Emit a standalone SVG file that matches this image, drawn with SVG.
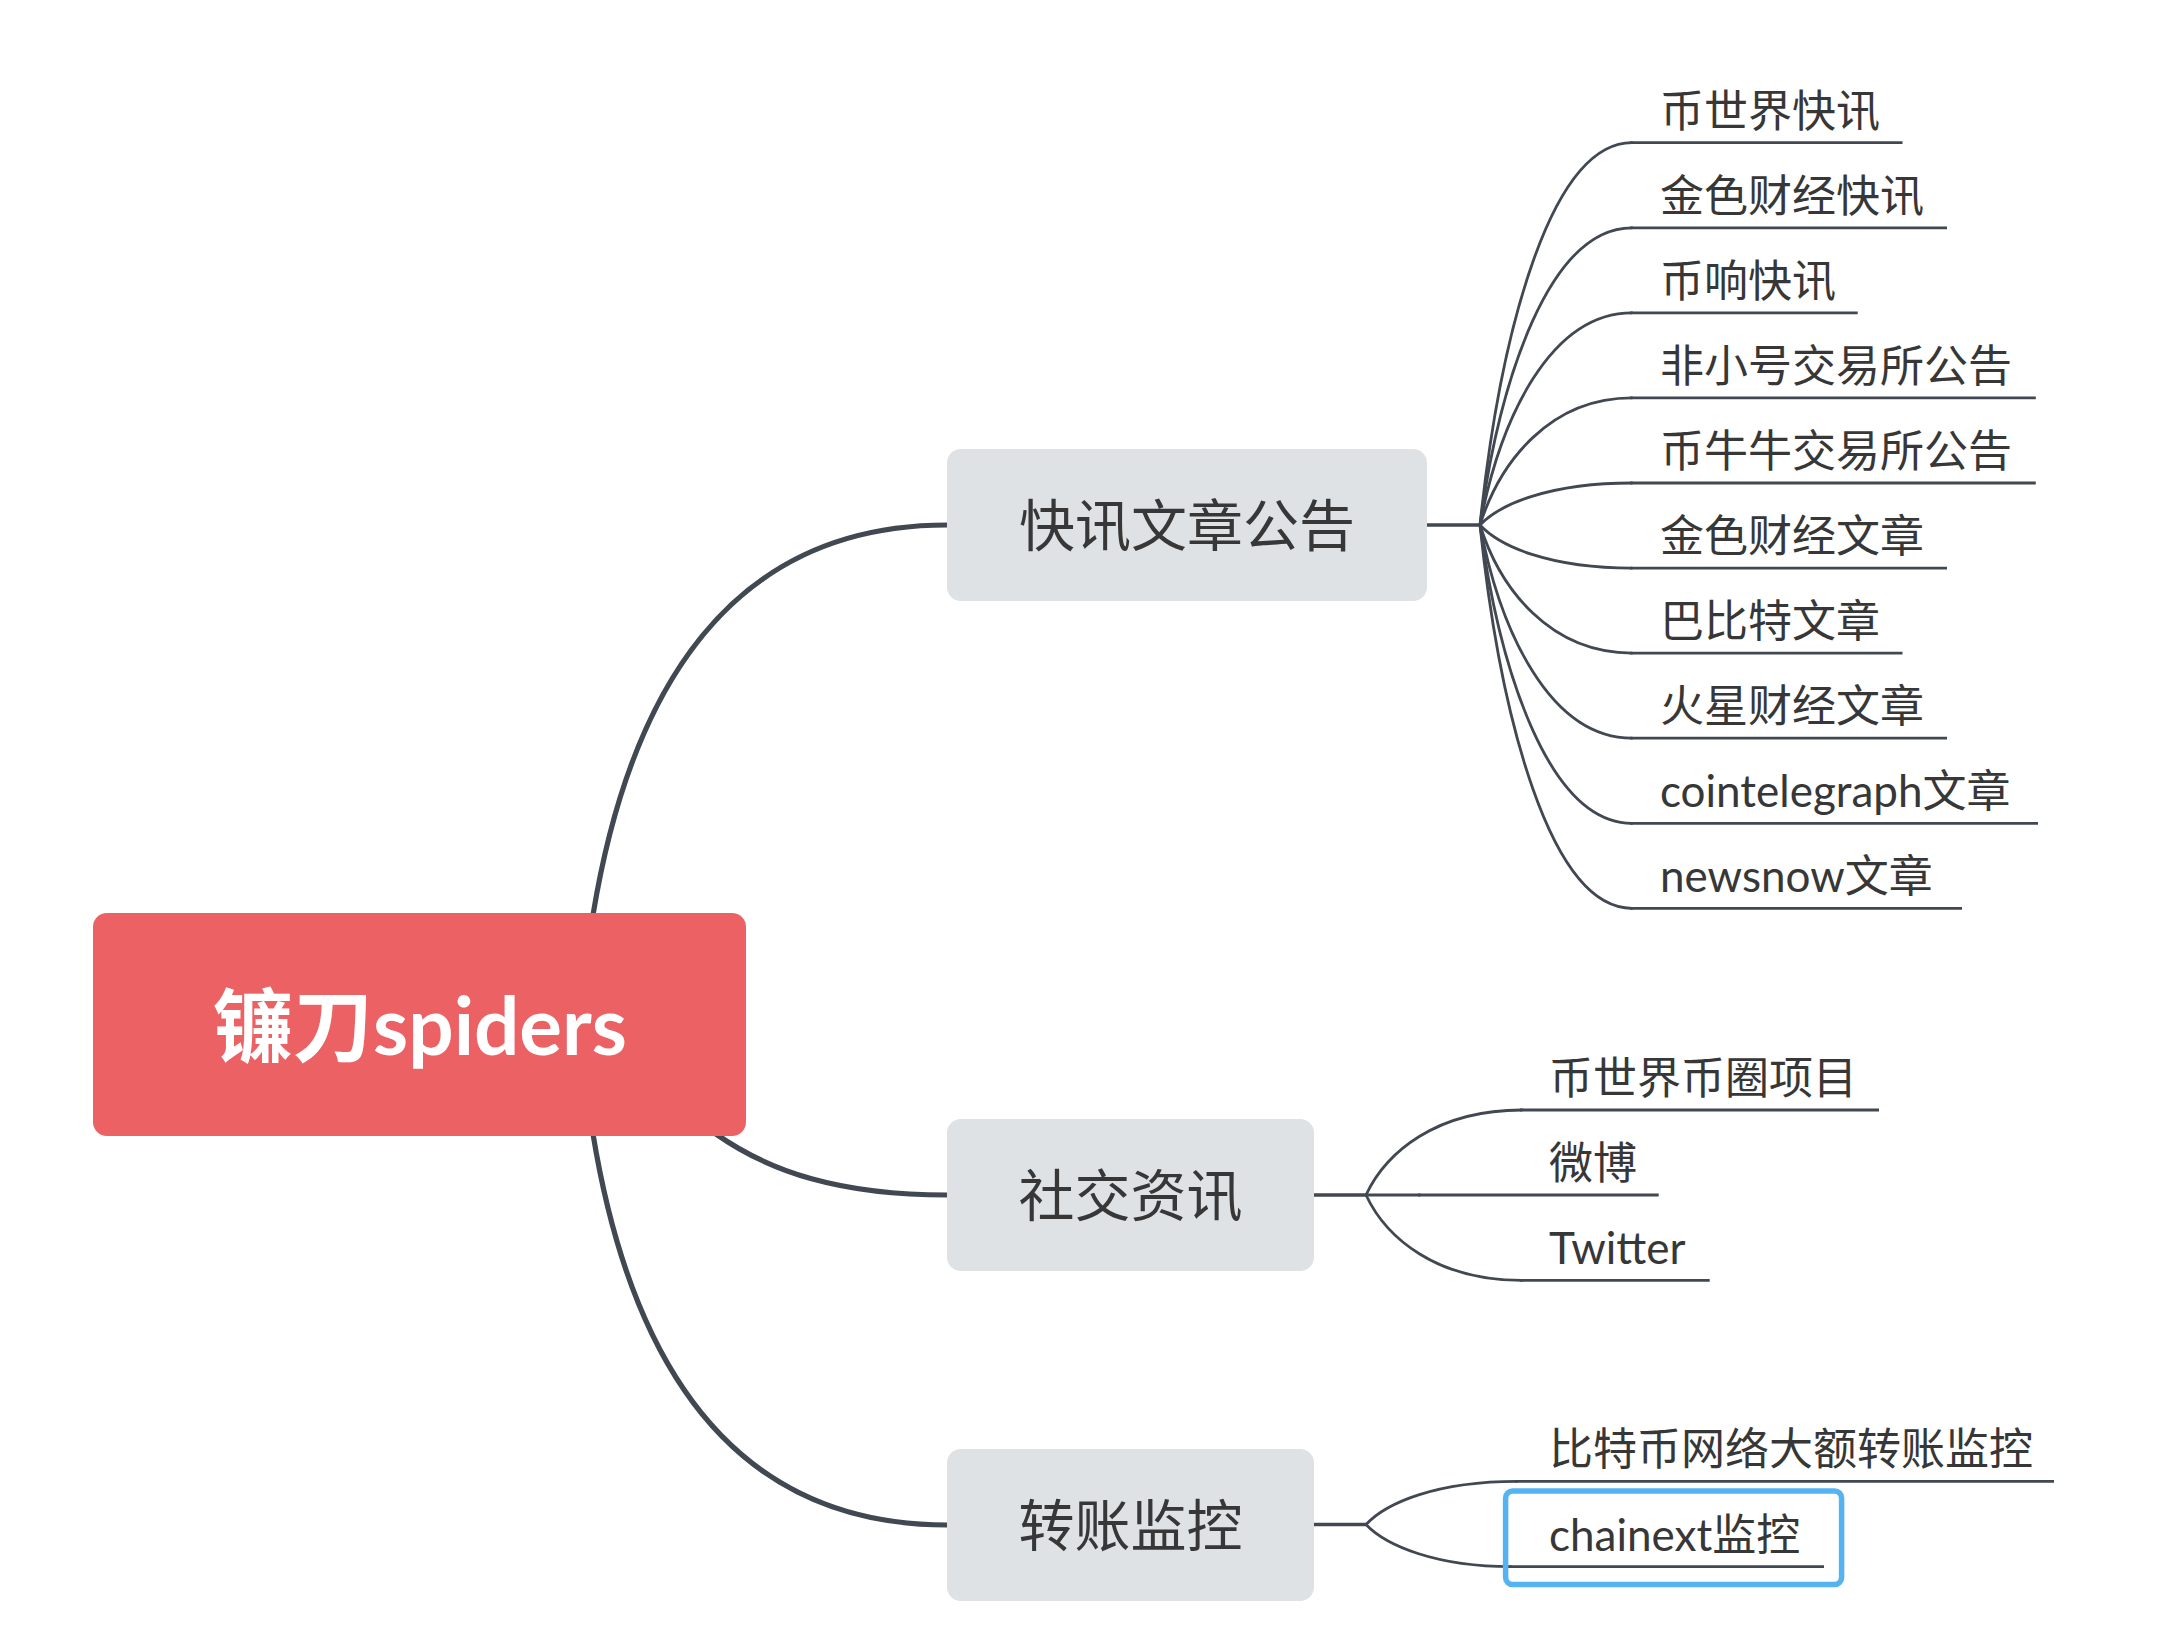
<svg xmlns="http://www.w3.org/2000/svg" width="2180" height="1652" viewBox="0 0 2180 1652">
<style>
.bg{fill:#ffffff}
.conn{fill:none;stroke:#414852;stroke-linecap:round}
.main{stroke-width:5.2}
.stem{stroke-width:3.4}
.leafc{stroke-width:2.8}
.uline{fill:none;stroke:#414852;stroke-width:2.8}
.root rect{fill:#EB6164}
.root text{fill:#ffffff;font-family:"Lato","Noto Sans CJK SC",sans-serif;font-weight:bold;font-size:80px;text-anchor:middle}
.branch rect{fill:#DEE2E5}
.branch text{fill:#373737;font-family:"Lato","Noto Sans CJK SC",sans-serif;font-size:56px;text-anchor:middle}
.leaf text{fill:#373737;font-family:"Lato","Noto Sans CJK SC",sans-serif;font-size:44px}
.sel{fill:none;stroke:#56B3F2;stroke-width:5.5}
</style>
<rect class="bg" x="0" y="0" width="2180" height="1652"/>
<g id="connectors">
  <path class="conn main" d="M593,915 C630,690 730,525 947,525"/>
  <path class="conn main" d="M716,1134 C770,1172 840,1195 947,1195"/>
  <path class="conn main" d="M593,1134 C630,1360 730,1525 947,1525"/>
  <path class="conn stem" d="M1427,525 L1480,525"/>
  <path class="conn stem" d="M1314,1195 L1366,1195"/>
  <path class="conn stem" d="M1314,1524.5 L1366,1524.5"/>
  <path class="conn leafc" d="M1480,525 C1500,333.9 1550,142.7 1632,142.7"/>
  <path class="conn leafc" d="M1480,525 C1500,376.4 1550,227.8 1632,227.8"/>
  <path class="conn leafc" d="M1480,525 C1500,418.9 1550,312.8 1632,312.8"/>
  <path class="conn leafc" d="M1480,525 C1500,461.5 1550,397.9 1632,397.9"/>
  <path class="conn leafc" d="M1480,525 C1500,504 1550,483 1632,483"/>
  <path class="conn leafc" d="M1480,525 C1500,546.6 1550,568.1 1632,568.1"/>
  <path class="conn leafc" d="M1480,525 C1500,589.1 1550,653.1 1632,653.1"/>
  <path class="conn leafc" d="M1480,525 C1500,631.6 1550,738.2 1632,738.2"/>
  <path class="conn leafc" d="M1480,525 C1500,674.2 1550,823.3 1632,823.3"/>
  <path class="conn leafc" d="M1480,525 C1500,716.7 1550,908.3 1632,908.3"/>
  <path class="conn leafc" d="M1366,1195 C1386,1152.5 1436,1110 1522,1110"/>
  <path class="conn leafc" d="M1366,1195 L1420,1195"/>
  <path class="conn leafc" d="M1366,1195 C1386,1237.7 1436,1280.4 1522,1280.4"/>
  <path class="conn leafc" d="M1366,1524.5 C1386,1502.9 1436,1481.3 1517,1481.3"/>
  <path class="conn leafc" d="M1366,1524.5 C1386,1545.6 1436,1566.6 1511,1566.6"/>
</g>
<g id="root" class="root">
  <rect x="93" y="913" width="653" height="223" rx="14"/>
  <text x="420" y="1055">镰刀spiders</text>
</g>
<g id="b1" class="branch">
  <rect x="947" y="449" width="480" height="152" rx="14"/>
  <text x="1187" y="546">快讯文章公告</text>
</g>
<g id="b2" class="branch">
  <rect x="947" y="1119" width="367" height="152" rx="14"/>
  <text x="1130.5" y="1216">社交资讯</text>
</g>
<g id="b3" class="branch">
  <rect x="947" y="1449" width="367" height="152" rx="14"/>
  <text x="1130.5" y="1546">转账监控</text>
</g>
<g id="l1" class="leaf"><path class="uline" d="M1630,142.7 H1902.5"/><text x="1660" y="126.7">币世界快讯</text></g>
<g id="l2" class="leaf"><path class="uline" d="M1630,227.8 H1947"/><text x="1660" y="211.8">金色财经快讯</text></g>
<g id="l3" class="leaf"><path class="uline" d="M1630,312.8 H1857.7"/><text x="1660" y="296.8">币响快讯</text></g>
<g id="l4" class="leaf"><path class="uline" d="M1630,397.9 H2035.8"/><text x="1660" y="381.9">非小号交易所公告</text></g>
<g id="l5" class="leaf"><path class="uline" d="M1630,483 H2035.8"/><text x="1660" y="467">币牛牛交易所公告</text></g>
<g id="l6" class="leaf"><path class="uline" d="M1630,568.1 H1947"/><text x="1660" y="552.1">金色财经文章</text></g>
<g id="l7" class="leaf"><path class="uline" d="M1630,653.1 H1902.5"/><text x="1660" y="637.1">巴比特文章</text></g>
<g id="l8" class="leaf"><path class="uline" d="M1630,738.2 H1947"/><text x="1660" y="722.2">火星财经文章</text></g>
<g id="l9" class="leaf"><path class="uline" d="M1630,823.3 H2038"/><text x="1660" y="807.3">cointelegraph文章</text></g>
<g id="l10" class="leaf"><path class="uline" d="M1630,908.3 H1962"/><text x="1660" y="892.3">newsnow文章</text></g>
<g id="s1" class="leaf"><path class="uline" d="M1520,1110 H1879"/><text x="1549" y="1094">币世界币圈项目</text></g>
<g id="s2" class="leaf"><path class="uline" d="M1418,1195 H1658.7"/><text x="1549" y="1179">微博</text></g>
<g id="s3" class="leaf"><path class="uline" d="M1520,1280.4 H1709.7"/><text x="1549" y="1264.4">Twitter</text></g>
<g id="t1" class="leaf"><path class="uline" d="M1515,1481.3 H2054"/><text x="1549" y="1465.3">比特币网络大额转账监控</text></g>
<g id="t2" class="leaf"><rect class="sel" x="1505.6" y="1491" width="336" height="93.6" rx="7"/><path class="uline" d="M1509,1566.6 H1824"/><text x="1549" y="1550.6">chainext监控</text></g>
</svg>
